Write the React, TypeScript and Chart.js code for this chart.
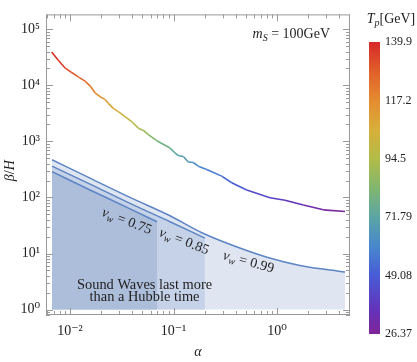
import React, { useEffect, useRef } from "react";
import { Chart, registerables } from "chart.js";
Chart.register(...registerables);

// ---- data: main curve (alpha, beta/H, Tp) ----
const alphaMain = [0.00665, 0.0077, 0.00895, 0.01038, 0.01202, 0.01396, 0.0156, 0.01745, 0.0195, 0.0218, 0.02344, 0.0262, 0.0293, 0.034, 0.0394, 0.0457, 0.0511, 0.0571, 0.0689, 0.0925, 0.1033, 0.111, 0.1244, 0.139, 0.155, 0.1737, 0.2094, 0.292, 0.365, 0.509, 0.855, 1.194, 1.795, 2.8, 4.54];
const betaMain = [39200, 27900, 20400, 16900, 14100, 11850, 9790, 7360, 6260, 5610, 4770, 3880, 3390, 2770, 2260, 1720, 1565, 1315, 1028, 760, 621, 558, 536, 430, 420, 361, 316, 240, 183, 136, 99, 89, 73.6, 60.1, 56.1];
const tpMain = [139, 137, 134, 131, 128, 125, 122, 119, 116, 113, 111, 108, 105, 101, 97, 93, 90, 87, 82, 76, 73, 71, 69, 66, 64, 62, 59, 54, 50, 46, 41, 38, 34, 30, 27];

// ---- data: sound-wave lifetime bounds ----
const alpha99 = [0.0067, 0.0156, 0.038, 0.0925, 0.188, 0.376, 0.8, 1.667, 4.54];
const beta99 = [471, 221, 100, 47.1, 23.5, 13.9, 8.6, 6.13, 4.67];
const alpha85 = [0.0067, 0.0156, 0.038, 0.0925, 0.201];
const beta85 = [361, 173, 78.3, 36.8, 18.8];
const alpha75 = [0.0067, 0.0156, 0.038, 0.0693];
const beta75 = [288, 136, 62.6, 36.8];

// ---- labels ----
const vwValues = ["0.75", "0.85", "0.99"];
const vwLabelAlpha = [0.0353, 0.126, 0.531];
const vwLabelBeta = [37.2, 16.3, 7.0];
const vwLabelAngle = [21, 21, 15];
const soundLines = ["Sound Waves last more", "than a Hubble time"];
const soundAlpha = 0.0525;
const soundBeta = [2.7, 1.66];

// ---- axes ----
const xMin = 0.00586, xMax = 5.07, yMin = 0.8, yMax = 184000;
const xTickValues = [0.01, 0.1, 1];
const xTickLabels = ["10⁻²", "10⁻¹", "10⁰"];
const yTickValues = [1, 10, 100, 1000, 10000, 100000];
const yTickLabels = ["10⁰", "10¹", "10²", "10³", "10⁴", "10⁵"];

// ---- colour bar ----
const tpMin = 26.37, tpMax = 139.9;
const tpTicks = [26.37, 49.08, 71.79, 94.5, 117.2, 139.9];
const tpTickLabels = ["26.37", "49.08", "71.79", "94.5", "117.2", "139.9"];

const cmapStops = [0, 0.08, 0.2, 0.3, 0.4, 0.5, 0.6, 0.7, 0.8, 0.9, 1];
const cmapColors = [[128, 36, 150], [100, 50, 185], [72, 92, 214], [72, 135, 205], [92, 165, 165], [128, 182, 110], [178, 188, 72], [215, 175, 58], [228, 140, 48], [225, 95, 42], [215, 40, 40]];

function tpColor(tp: number): string {
  let t = (tp - tpMin) / (tpMax - tpMin);
  t = Math.max(0, Math.min(1, t));
  for (let i = 0; i < cmapStops.length - 1; i++) {
    if (t <= cmapStops[i + 1]) {
      const f = (t - cmapStops[i]) / (cmapStops[i + 1] - cmapStops[i]);
      const a = cmapColors[i], b = cmapColors[i + 1];
      const c = a.map((v, k) => Math.round(v + (b[k] - v) * f));
      return `rgb(${c[0]},${c[1]},${c[2]})`;
    }
  }
  const c = cmapColors[cmapColors.length - 1];
  return `rgb(${c[0]},${c[1]},${c[2]})`;
}

const SERIF = '"Liberation Serif", "DejaVu Serif", serif';

type Seg = { t: string; italic?: boolean; sub?: boolean };
function drawRich(ctx: CanvasRenderingContext2D, segs: Seg[], x: number, y: number, size: number, align: "left" | "center" | "right") {
  const fontFor = (s: Seg) => `${s.italic ? "italic " : ""}${s.sub ? Math.round(size * 0.72) : size}px ${SERIF}`;
  const widths = segs.map((s) => { ctx.font = fontFor(s); return ctx.measureText(s.t).width; });
  const total = widths.reduce((a, b) => a + b, 0);
  let cx = align === "left" ? x : align === "center" ? x - total / 2 : x - total;
  ctx.textAlign = "left";
  segs.forEach((s, i) => {
    ctx.font = fontFor(s);
    ctx.fillText(s.t, cx, y + (s.sub ? size * 0.28 : 0));
    cx += widths[i];
  });
}

function logTicks(min: number, max: number) {
  const out: any[] = [];
  for (let e = Math.floor(Math.log10(min)); e <= Math.ceil(Math.log10(max)); e++) {
    for (let m = 1; m <= 9; m++) {
      const v = parseFloat((m * Math.pow(10, e)).toPrecision(6));
      if (v >= min && v <= max) out.push({ value: v, major: m === 1 });
    }
  }
  return out;
}

function labelFrom(values: number[], labels: string[], v: number) {
  for (let i = 0; i < values.length; i++) {
    if (Math.abs(v - values[i]) / values[i] < 1e-6) return labels[i];
  }
  return "";
}

const framePlugin = {
  id: "frame",
  afterDraw(chart: any) {
    const { ctx, chartArea: a, scales } = chart;
    const x = scales.x, y = scales.y;
    ctx.save();
    ctx.strokeStyle = "#9a9a9a";
    ctx.lineWidth = 1;
    ctx.strokeRect(a.left + 0.5, a.top + 0.5, a.right - a.left - 1, a.bottom - a.top - 1);
    ctx.beginPath();
    x.ticks.forEach((t: any) => {
      const p = Math.round(x.getPixelForValue(t.value)) + 0.5;
      const len = t.major ? 7 : 4;
      ctx.moveTo(p, a.bottom); ctx.lineTo(p, a.bottom - len);
      ctx.moveTo(p, a.top); ctx.lineTo(p, a.top + len);
    });
    y.ticks.forEach((t: any) => {
      const p = Math.round(y.getPixelForValue(t.value)) + 0.5;
      const len = t.major ? 7 : 4;
      ctx.moveTo(a.left, p); ctx.lineTo(a.left + len, p);
      ctx.moveTo(a.right, p); ctx.lineTo(a.right - len, p);
    });
    ctx.stroke();
    ctx.restore();
  },
};

const annotPlugin = {
  id: "annot",
  afterDatasetsDraw(chart: any) {
    const { ctx, chartArea: a, scales } = chart;
    const x = scales.x, y = scales.y;
    ctx.save();
    ctx.fillStyle = "#1e1e1e";
    ctx.textBaseline = "middle";
    vwValues.forEach((lab, i) => {
      const px = x.getPixelForValue(vwLabelAlpha[i]);
      const py = y.getPixelForValue(vwLabelBeta[i]);
      ctx.save();
      ctx.translate(px, py);
      ctx.rotate((vwLabelAngle[i] * Math.PI) / 180);
      drawRich(ctx, [{ t: "v", italic: true }, { t: "w", italic: true, sub: true }, { t: " = " + lab }], 0, 0, 14, "center");
      ctx.restore();
    });
    soundLines.forEach((s, i) => {
      drawRich(ctx, [{ t: s }], x.getPixelForValue(soundAlpha), y.getPixelForValue(soundBeta[i]), 14.4, "center");
    });
    drawRich(ctx, [{ t: "m", italic: true }, { t: "S", italic: true, sub: true }, { t: " = 100GeV" }], a.right - 20, a.top + 20, 14, "right");
    // axis titles
    drawRich(ctx, [{ t: "α", italic: true }], (a.left + a.right) / 2, 352, 14, "center");
    ctx.save();
    ctx.translate(10, (a.top + a.bottom) / 2 + 6);
    ctx.rotate(-Math.PI / 2);
    drawRich(ctx, [{ t: "β", italic: true }, { t: "/" }, { t: "H", italic: true }], 0, 0, 14, "center");
    ctx.restore();
    ctx.restore();
  },
};

const cbTitlePlugin = {
  id: "cbtitle",
  afterDraw(chart: any) {
    const { ctx } = chart;
    ctx.save();
    ctx.fillStyle = "#1e1e1e";
    ctx.textBaseline = "middle";
    drawRich(ctx, [{ t: "T", italic: true }, { t: "p", italic: true, sub: true }, { t: "[GeV]" }], 36, 19, 14, "center");
    ctx.restore();
  },
};

const lineBlue = "#5d85c4";

export default function App() {
  const mainRef = useRef<HTMLCanvasElement>(null);
  const cbRef = useRef<HTMLCanvasElement>(null);

  useEffect(() => {
    const pts = (xs: number[], ys: number[]) => xs.map((v, i) => ({ x: v, y: ys[i] }));
    const tickFont = { family: SERIF, size: 14 };
    const main = new Chart(mainRef.current as HTMLCanvasElement, {
      type: "line",
      data: {
        datasets: [
          {
            data: pts(alphaMain, betaMain),
            borderColor: tpColor(tpMain[0]),
            borderWidth: 1.6,
            pointRadius: 0,
            fill: false,
            order: 0,
            segment: {
              borderColor: (c: any) => tpColor((tpMain[c.p0DataIndex] + tpMain[c.p1DataIndex]) / 2),
            },
          } as any,
          {
            data: pts(alpha99, beta99),
            borderColor: lineBlue,
            borderWidth: 1.5,
            pointRadius: 0,
            cubicInterpolationMode: "monotone",
            fill: { value: 1 },
            backgroundColor: "#dfe6f1",
            order: 3,
          },
          {
            data: pts(alpha85, beta85),
            borderColor: lineBlue,
            borderWidth: 1.5,
            pointRadius: 0,
            cubicInterpolationMode: "monotone",
            fill: { value: 1 },
            backgroundColor: "#c6d2e7",
            order: 2,
          },
          {
            data: pts(alpha75, beta75),
            borderColor: lineBlue,
            borderWidth: 1.5,
            pointRadius: 0,
            cubicInterpolationMode: "monotone",
            fill: { value: 1 },
            backgroundColor: "#adbedb",
            order: 1,
          },
        ],
      },
      options: {
        animation: false,
        responsive: false,
        events: [],
        layout: { padding: { left: 0, top: 12, right: 67, bottom: 0 } },
        plugins: { legend: { display: false }, tooltip: { enabled: false } },
        scales: {
          x: {
            type: "logarithmic",
            min: xMin,
            max: xMax,
            afterBuildTicks: (s: any) => { s.ticks = logTicks(xMin, xMax); },
            afterFit: (s: any) => { s.height = 47; },
            grid: { display: false, drawTicks: false },
            border: { display: false },
            ticks: {
              autoSkip: false,
              maxRotation: 0,
              padding: 8,
              color: "#222",
              font: tickFont,
              callback: (v: any) => labelFrom(xTickValues, xTickLabels, Number(v)),
            },
          },
          y: {
            type: "logarithmic",
            min: yMin,
            max: yMax,
            afterBuildTicks: (s: any) => { s.ticks = logTicks(yMin, yMax); },
            afterFit: (s: any) => { s.width = 46; },
            grid: { display: false, drawTicks: false },
            border: { display: false },
            ticks: {
              autoSkip: false,
              padding: 6,
              color: "#222",
              font: tickFont,
              callback: (v: any) => labelFrom(yTickValues, yTickLabels, Number(v)),
            },
          },
        },
      } as any,
      plugins: [annotPlugin, framePlugin],
    });

    const cb = new Chart(cbRef.current as HTMLCanvasElement, {
      type: "bar",
      data: {
        labels: ["Tp"],
        datasets: [
          {
            data: [[tpMin, tpMax]] as any,
            borderWidth: 0,
            barPercentage: 1,
            categoryPercentage: 1,
            backgroundColor: (c: any) => {
              const ch = c.chart;
              const ys = ch.scales.y;
              if (!ys || !ch.chartArea) return tpColor(tpMax);
              const y0 = ys.getPixelForValue(tpMin), y1 = ys.getPixelForValue(tpMax);
              const g = ch.ctx.createLinearGradient(0, y0, 0, y1);
              cmapStops.forEach((s, i) => {
                const col = cmapColors[i];
                g.addColorStop(s, `rgb(${col[0]},${col[1]},${col[2]})`);
              });
              return g;
            },
          },
        ],
      },
      options: {
        animation: false,
        responsive: false,
        events: [],
        layout: { padding: { left: 14, top: 42, bottom: 28, right: 0 } },
        plugins: { legend: { display: false }, tooltip: { enabled: false } },
        scales: {
          x: { display: false },
          y: {
            position: "right",
            min: tpMin,
            max: tpMax,
            afterBuildTicks: (s: any) => { s.ticks = tpTicks.map((v) => ({ value: v })); },
            afterFit: (s: any) => { s.width = 37; },
            grid: { display: false, drawTicks: false },
            border: { display: false },
            ticks: {
              autoSkip: false,
              padding: 5,
              color: "#222",
              font: { family: SERIF, size: 12 },
              callback: (_v: any, i: number) => tpTickLabels[i],
            },
          },
        },
      } as any,
      plugins: [cbTitlePlugin],
    });

    return () => {
      main.destroy();
      cb.destroy();
    };
  }, []);

  return (
    <div style={{ position: "fixed", left: 0, top: 0, width: 417, height: 362, background: "#fff" }}>
      <canvas ref={mainRef} width={417} height={362} style={{ position: "absolute", left: 0, top: 0 }} />
      <canvas ref={cbRef} width={62} height={362} style={{ position: "absolute", left: 355, top: 0 }} />
    </div>
  );
}
